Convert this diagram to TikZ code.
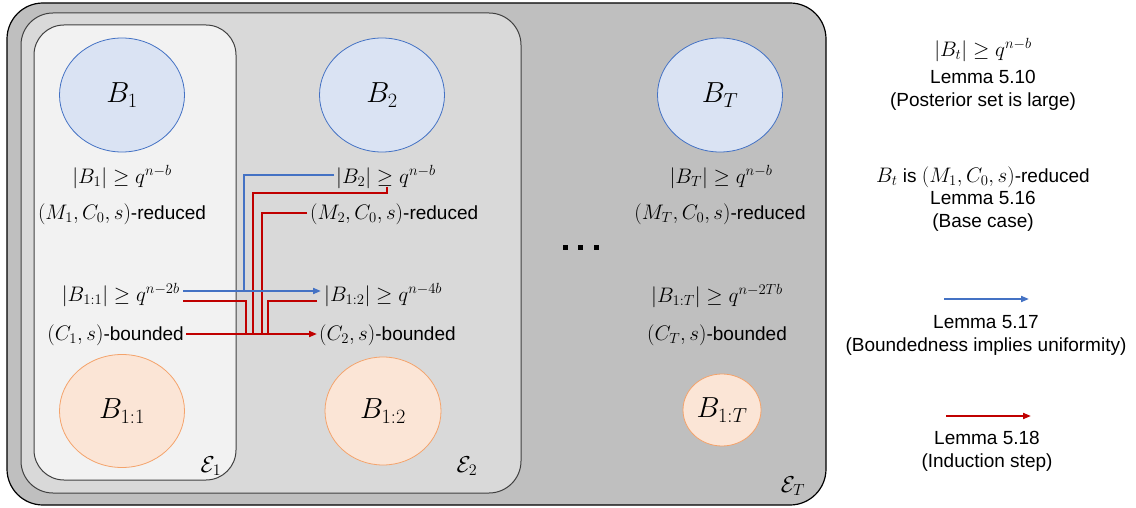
\RequirePackage{fix-cm}
\documentclass[tikz,border=0pt]{standalone}
\usepackage{fontspec}
\newfontfamily\arial{Liberation Sans}
\usetikzlibrary{shapes.geometric,arrows.meta}
\newcommand\mth[1]{{\fontsize{21}{23}\selectfont$#1$}}
\definecolor{outerg}{HTML}{BFBFBF}
\definecolor{midg}{HTML}{D9D9D9}
\definecolor{inng}{HTML}{F2F2F2}
\definecolor{bfill}{HTML}{DAE3F3}
\definecolor{bline}{HTML}{4472C4}
\definecolor{ofill}{HTML}{FBE5D6}
\definecolor{oline}{HTML}{F4A36B}
\definecolor{rline}{HTML}{C00000}
\tikzset{
  lbl/.style={font=\arial\fontsize{19}{23}\selectfont, inner sep=0pt, text=black},
  leg/.style={font=\arial\fontsize{19}{23}\selectfont, inner sep=0pt, align=center, text=black},
  bset/.style={ellipse, draw=bline, line width=0.8pt, fill=bfill, font=\fontsize{29}{32}\selectfont, inner sep=0pt},
  oset/.style={ellipse, draw=oline, line width=0.8pt, fill=ofill, font=\fontsize{29}{32}\selectfont, inner sep=0pt},
  eps/.style={font=\fontsize{23}{26}\selectfont, inner sep=0pt},
  blue arrow/.style={draw=bline, line width=1.8pt},
  red arrow/.style={draw=rline, line width=1.8pt},
  tip/.style={-{Triangle[length=8pt,width=6pt]}},
  dotsq/.style={fill=black, minimum size=5pt, inner sep=0pt},
}
\begin{document}
\begin{tikzpicture}[x=1pt,y=-1pt]
\useasboundingbox (0,0) rectangle (1136,508);
\fill[white] (0,0) rectangle (1136,508);
% containers
\draw[fill=outerg, draw=black, line width=1.2pt, rounded corners=36pt] (7,3) rectangle (826,505);
\draw[fill=midg, draw=black!75, line width=1pt, rounded corners=32pt] (21,13) rectangle (521,493);
\draw[fill=inng, draw=black!75, line width=1pt, rounded corners=30pt] (34,25) rectangle (236,480);
\node[eps] (e1) at (211,466) {$\mathcal{E}_1$};
\node[eps] (e2) at (467,466) {$\mathcal{E}_2$};
\node[eps] (eT) at (793,486) {$\mathcal{E}_T$};
% sets
\node[bset, minimum width=125pt, minimum height=114pt] (B1) at (122,95) {$B_1$};
\node[bset, minimum width=125pt, minimum height=114pt] (B2) at (382,95) {$B_2$};
\node[bset, minimum width=125pt, minimum height=114pt] (BT) at (720,95) {$B_T$};
\node[oset, minimum width=125pt, minimum height=113pt] (B11) at (122,411) {$B_{1:1}$};
\node[oset, minimum width=116pt, minimum height=108pt] (B12) at (383,411) {$B_{1:2}$};
\node[oset, minimum width=78pt, minimum height=72pt] (B1T) at (722,410) {$B_{1:T}$};
% column 1
\node[lbl] (l1a) at (122,177) {\mth{|B_1|\geq q^{n-b}}};
\node[lbl] (l1b) at (122,214) {\mth{(M_1,C_0,s)}-reduced};
\node[lbl, anchor=east] (l1c) at (180,295) {\mth{|B_{1:1}|\geq q^{n-2b}}};
\node[lbl, anchor=east] (l1d) at (184,335) {\mth{(C_1,s)}-bounded};
% column 2
\node[lbl, anchor=west] (l2a) at (336,177) {\mth{|B_2|\geq q^{n-b}}};
\node[lbl, anchor=west] (l2b) at (310,214) {\mth{(M_2,C_0,s)}-reduced};
\node[lbl, anchor=west] (l2c) at (324,295) {\mth{|B_{1:2}|\geq q^{n-4b}}};
\node[lbl, anchor=west] (l2d) at (319,335) {\mth{(C_2,s)}-bounded};
% column T
\node[lbl] (lTa) at (721,177) {\mth{|B_T|\geq q^{n-b}}};
\node[lbl] (lTb) at (720,214) {\mth{(M_T,C_0,s)}-reduced};
\node[lbl] (lTc) at (717,296) {\mth{|B_{1:T}|\geq q^{n-2Tb}}};
\node[lbl] (lTd) at (717,335) {\mth{(C_T,s)}-bounded};
% dots
\node[dotsq] (d1) at (565,247) {};
\node[dotsq] (d2) at (580,247) {};
\node[dotsq] (d3) at (596,247) {};
% connector coordinates
\coordinate (bS) at (183,291);
\coordinate (bE) at (321,291);
\coordinate (bJ) at (244,291);
\coordinate (bB2) at (334,175);
\coordinate (rS) at (186,334);
\coordinate (rE) at (317,334);
\coordinate (rQ) at (387,187);
\coordinate (rJ1) at (253,334);
\coordinate (rM) at (307,213);
\coordinate (rJ2) at (262,334);
\coordinate (r11) at (183,301);
\coordinate (rJ3) at (246,334);
\coordinate (r12) at (317,301);
\coordinate (rJ4) at (268,334);
% red connectors
\draw[red arrow] (r11) -| (rJ3);
\draw[red arrow] (rQ) -- (387,193) -| (rJ1);
\draw[red arrow] (rM) -| (rJ2);
\draw[red arrow] (r12) -| (rJ4);
\draw[red arrow, tip] (rS) -- (rE);
% blue connectors
\draw[blue arrow] (bB2) -| (bJ);
\draw[blue arrow, tip] (bS) -- (bE);
% legend
\node[leg] (g1) at (983,50) {\mth{|B_t|\geq q^{n-b}}};
\node[leg] (g2) at (983,90) {Lemma 5.10\\(Posterior set is large)};
\node[leg] (g3) at (983,177) {\mth{B_t} is \mth{(M_1,C_0,s)}-reduced};
\node[leg] (g4) at (983,211) {Lemma 5.16\\(Base case)};
\coordinate (gb1) at (944,299);
\coordinate (gb2) at (1029,299);
\draw[blue arrow, tip] (gb1) -- (gb2);
\node[leg] (g5) at (986,335) {Lemma 5.17\\(Boundedness implies uniformity)};
\coordinate (gr1) at (946,416);
\coordinate (gr2) at (1031,416);
\draw[red arrow, tip] (gr1) -- (gr2);
\node[leg] (g6) at (987,451) {Lemma 5.18\\(Induction step)};
\end{tikzpicture}
\end{document}
